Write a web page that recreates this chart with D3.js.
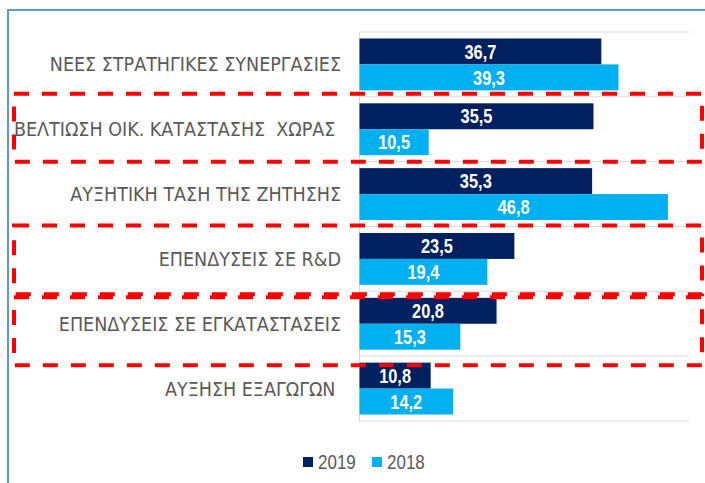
<!DOCTYPE html>
<html>
<head>
<meta charset="utf-8">
<script src="https://cdn.jsdelivr.net/npm/d3@7"></script>
<style>
  body { margin: 0; background: #fff; }
  svg { display: block; }
</style>
</head>
<body>
<script>
// data
const categories = [
  "ΝΕΕΣ ΣΤΡΑΤΗΓΙΚΕΣ ΣΥΝΕΡΓΑΣΙΕΣ",
  "ΒΕΛΤΙΩΣΗ ΟΙΚ. ΚΑΤΑΣΤΑΣΗΣ  ΧΩΡΑΣ ",
  "ΑΥΞΗΤΙΚΗ ΤΑΣΗ ΤΗΣ ΖΗΤΗΣΗΣ",
  "ΕΠΕΝΔΥΣΕΙΣ ΣΕ R&D",
  "ΕΠΕΝΔΥΣΕΙΣ ΣΕ ΕΓΚΑΤΑΣΤΑΣΕΙΣ",
  "ΑΥΞΗΣΗ ΕΞΑΓΩΓΩΝ "
];
const series = ["2019", "2018"];
const values2019 = [36.7, 35.5, 35.3, 23.5, 20.8, 10.8];
const values2018 = [39.3, 10.5, 46.8, 19.4, 15.3, 14.2];
// categories boxed with the red dashed frames
const highlighted = [1, 3, 4];

const colors = { "2019": "#002060", "2018": "#00B0F0" };
const W = 705, H = 483;
const plot = { left: 359.5, right: 689, top: 32, bottom: 421 };
// hand-drawn frames are a little off the bands
const boxNudge = [{ t: -3, b: 0 }, { t: -1, b: 3 }, { t: 6, b: 9 }];
// no narrow font installed: squeeze Liberation Sans instead
const narrow = 0.82;

const svg = d3.select("body").append("svg")
  .attr("width", W)
  .attr("height", H);

// outer blue frame (runs off the right / bottom edge)
svg.append("rect")
  .attr("x", 8).attr("y", 10)
  .attr("width", 800).attr("height", 600)
  .attr("fill", "none")
  .attr("stroke", "#5B9BD5")
  .attr("stroke-width", 2);

const x = d3.scaleLinear().domain([0, 50]).range([plot.left, plot.right]);
const y = d3.scaleBand().domain(d3.range(categories.length)).range([plot.top, plot.bottom]);
const barH = y.bandwidth() * 0.4;
const sub = d3.scaleBand().domain(series)
  .range([(y.bandwidth() - 2 * barH) / 2, (y.bandwidth() + 2 * barH) / 2]);

// horizontal grid lines at category boundaries
const bounds = d3.range(categories.length + 1).map(i => i < categories.length ? y(i) : plot.bottom);
svg.append("g").selectAll("line").data(bounds).join("line")
  .attr("x1", plot.left).attr("x2", plot.right)
  .attr("y1", d => d).attr("y2", d => d)
  .attr("stroke", "#D9D9D9").attr("stroke-width", 1);

// vertical axis line
svg.append("line")
  .attr("x1", plot.left).attr("x2", plot.left)
  .attr("y1", plot.top).attr("y2", plot.bottom)
  .attr("stroke", "#D9D9D9");

const rows = categories.map((c, i) => ({ i, c, v: { "2019": values2019[i], "2018": values2018[i] } }));

const groups = svg.append("g").selectAll("g").data(rows).join("g")
  .attr("transform", d => `translate(0,${y(d.i)})`);

const bars = groups.selectAll("g").data(d => series.map(s => ({ s, v: d.v[s] }))).join("g");

bars.append("rect")
  .attr("x", x(0))
  .attr("y", d => sub(d.s))
  .attr("width", d => x(d.v) - x(0))
  .attr("height", sub.bandwidth())
  .attr("fill", d => colors[d.s]);

bars.append("text")
  .attr("transform", d => `translate(${(x(0) + x(d.v)) / 2},${sub(d.s) + sub.bandwidth() / 2}) scale(${narrow},1)`)
  .attr("dy", "0.36em")
  .attr("text-anchor", "middle")
  .style("font-family", "'Liberation Sans', Arial, sans-serif")
  .style("font-weight", "bold")
  .style("font-size", "20px")
  .style("fill", "#fff")
  .text(d => d3.format(".1f")(d.v).replace(".", ","));

// category labels
svg.append("g").selectAll("text").data(rows).join("text")
  .attr("x", 341)
  .attr("y", d => y(d.i) + y.bandwidth() / 2)
  .attr("dy", "0.36em")
  .attr("text-anchor", "end")
  .style("white-space", "pre")
  .style("font-family", "'DejaVu Sans Condensed', 'DejaVu Sans', sans-serif")
  .style("font-stretch", "condensed")
  .style("font-size", "19.5px")
  .style("fill", "#595959")
  .text(d => d.c);

// red dashed highlight frames
svg.append("g").selectAll("rect").data(highlighted).join("rect")
  .attr("x", 14)
  .attr("y", (d, k) => y(d) + boxNudge[k].t)
  .attr("width", 702 - 14)
  .attr("height", (d, k) => y.bandwidth() + boxNudge[k].b - boxNudge[k].t)
  .attr("fill", "none")
  .attr("stroke", "#FF0000")
  .attr("stroke-width", 4)
  .attr("stroke-dasharray", "15,13");

// legend
const legend = svg.append("g").selectAll("g").data(series).join("g")
  .attr("transform", (d, i) => `translate(${303 + i * 69},457)`);
legend.append("rect")
  .attr("width", 10).attr("height", 10)
  .attr("fill", d => colors[d]);
legend.append("text")
  .attr("transform", `translate(15,5) scale(0.85,1)`)
  .attr("dy", "0.36em")
  .style("font-family", "'Liberation Sans', Arial, sans-serif")
  .style("font-size", "20px")
  .style("fill", "#595959")
  .text(d => d);
</script>
</body>
</html>
